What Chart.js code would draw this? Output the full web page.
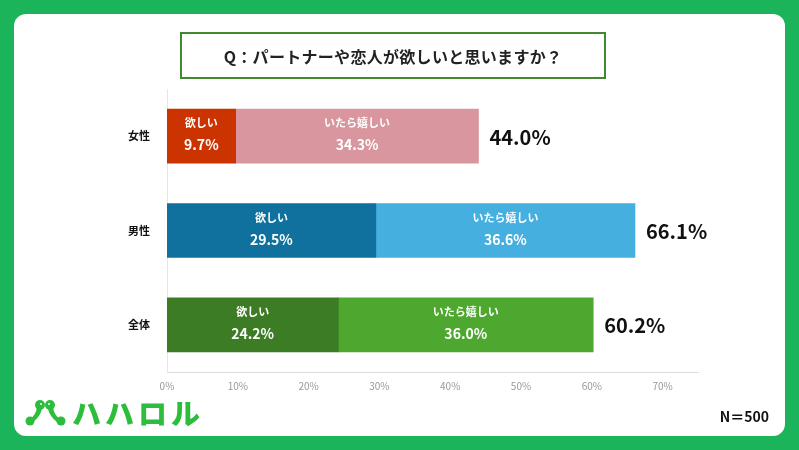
<!DOCTYPE html>
<html lang="ja">
<head>
<meta charset="utf-8">
<script src="https://cdn.jsdelivr.net/npm/chart.js@4.4.1/dist/chart.umd.min.js"></script>
<style>
  html, body { margin: 0; padding: 0; }
  body {
    width: 799px; height: 450px; overflow: hidden;
    background: #1cb45a; position: relative;
    font-family: "Noto Sans CJK JP", "Noto Sans", sans-serif;
  }
  .card {
    position: absolute; left: 14px; top: 14px; width: 771px; height: 422px;
    background: #fff; border-radius: 12px;
  }
  #chart { position: absolute; left: 0; top: 0; }
  .title {
    position: absolute; left: 180px; top: 32px; width: 422px; height: 43px;
    border: 2.5px solid #3f8a2f; box-sizing: content-box;
    display: flex; align-items: center; justify-content: center;
    font-size: 16px; font-weight: 700; color: #222; letter-spacing: 0.3px;
  }
  .logo {
    position: absolute; left: 72px; top: 391px;
    font-size: 29px; font-weight: 900; color: #2cbd3c; letter-spacing: 4px;
  }
  .icon { position: absolute; left: 24px; top: 399px; }
  .n {
    position: absolute; right: 30px; top: 406px;
    font-size: 14px; font-weight: 700; color: #111;
  }
</style>
</head>
<body>
<div class="card"></div>
<canvas id="chart" width="799" height="450"></canvas>
<div class="title">Q：パートナーや恋人が欲しいと思いますか？</div>
<svg class="icon" width="44" height="28" viewBox="0 0 44 28">
  <g fill="#2cbd3c">
    <circle cx="16" cy="6" r="5"/>
    <circle cx="26" cy="6" r="5"/>
    <path d="M13 8 Q12 16 6 20 L9 23 Q16 18 18 10 Z"/>
    <path d="M29 8 Q30 16 36 20 L33 23 Q26 18 24 10 Z"/>
    <circle cx="6" cy="22" r="4.5"/>
    <circle cx="37" cy="22" r="4.5"/>
  </g>
  <circle cx="17" cy="5" r="1" fill="#fff"/>
  <circle cx="25" cy="5" r="1" fill="#fff"/>
</svg>
<div class="logo">ハハロル</div>
<div class="n">N＝500</div>
<script>
const categories = ["女性", "男性", "全体"];
const wantValues = [9.7, 29.5, 24.2];
const niceValues = [34.3, 36.6, 36.0];
const totalValues = [44.0, 66.1, 60.2];
const seriesNames = ["欲しい", "いたら嬉しい"];
const wantColors = ["#cb3300", "#10719e", "#3b7c25"];
const niceColors = ["#d9969f", "#45afdf", "#4ea830"];
const xTicks = [0, 10, 20, 30, 40, 50, 60, 70];

const FONT = '"Noto Sans CJK JP", "Noto Sans", sans-serif';

const segmentLabelsPlugin = {
  id: "segmentLabels",
  afterDatasetsDraw(chart) {
    const { ctx } = chart;
    chart.data.datasets.forEach((dataset, di) => {
      const meta = chart.getDatasetMeta(di);
      meta.data.forEach((bar, i) => {
        const cx = (bar.x + bar.base) / 2;
        ctx.save();
        ctx.fillStyle = "#fff";
        ctx.textAlign = "center";
        ctx.textBaseline = "middle";
        ctx.font = "bold 11px " + FONT;
        ctx.fillText(dataset.label, cx, bar.y - 13);
        ctx.font = "bold 14px " + FONT;
        ctx.fillText(dataset.data[i].toFixed(1) + "%", cx, bar.y + 9);
        ctx.restore();
      });
    });
    // totals to the right of each stack
    const last = chart.getDatasetMeta(chart.data.datasets.length - 1);
    last.data.forEach((bar, i) => {
      ctx.save();
      ctx.fillStyle = "#111";
      ctx.textAlign = "left";
      ctx.textBaseline = "middle";
      ctx.font = "bold 20px " + FONT;
      ctx.fillText(totalValues[i].toFixed(1) + "%", bar.x + 11, bar.y + 1);
      ctx.restore();
    });
  }
};

new Chart(document.getElementById("chart"), {
  type: "bar",
  data: {
    labels: categories,
    datasets: [
      { label: seriesNames[0], data: wantValues, backgroundColor: wantColors, barThickness: 54 },
      { label: seriesNames[1], data: niceValues, backgroundColor: niceColors, barThickness: 54 }
    ]
  },
  options: {
    indexAxis: "y",
    responsive: false,
    animation: false,
    layout: { padding: { left: 0, right: 101, top: 89, bottom: 0 } },
    plugins: { legend: { display: false }, tooltip: { enabled: false } },
    scales: {
      x: {
        stacked: true,
        min: 0,
        max: 75,
        afterBuildTicks(scale) { scale.ticks = xTicks.map(v => ({ value: v })); },
        afterFit(scale) { scale.height = 78; },
        grid: { display: false },
        border: { display: true, color: "#dcdcdc", width: 1 },
        ticks: {
          color: "#999",
          font: { size: 10, family: FONT },
          padding: 0,
          callback: v => v + "%"
        }
      },
      y: {
        stacked: true,
        afterFit(scale) { scale.width = 167; },
        grid: { display: false },
        border: { display: true, color: "#e6e6e6", width: 1 },
        ticks: {
          color: "#111",
          font: { size: 11, weight: "bold", family: FONT },
          padding: 9
        }
      }
    }
  },
  plugins: [segmentLabelsPlugin]
});
</script>
</body>
</html>
